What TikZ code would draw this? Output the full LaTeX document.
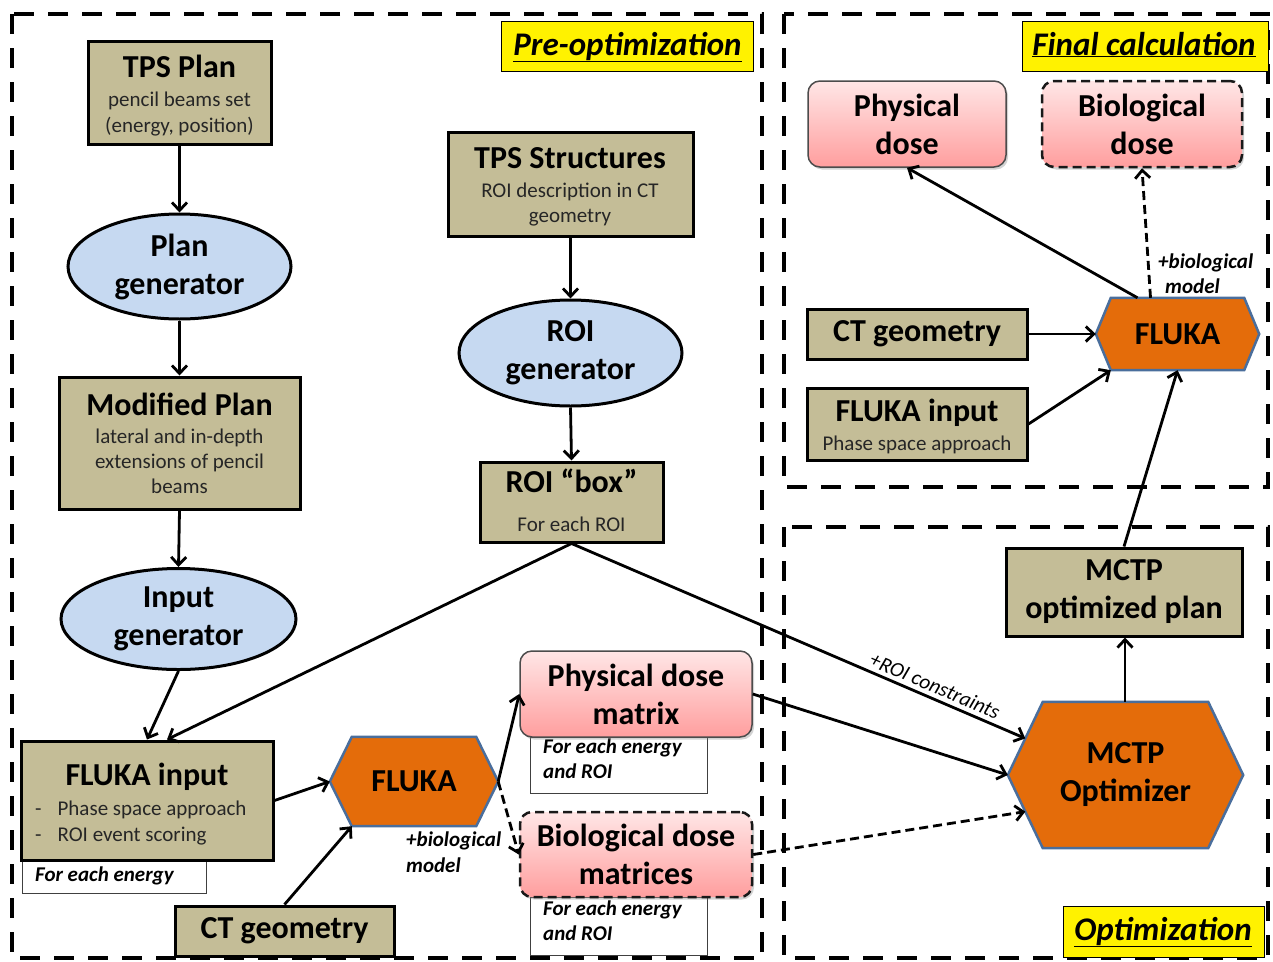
\documentclass[tikz,border=0pt]{standalone}
\usepackage{fontspec}
\setmainfont{Carlito}
\usetikzlibrary{arrows.meta,shapes.geometric,shadows,calc}
\pgfdeclarelayer{background}
\pgfsetlayers{background,main}

\definecolor{tanfill}{HTML}{C4BD97}
\definecolor{genblue}{HTML}{C6D9F1}
\definecolor{flukaorange}{HTML}{E46C0A}
\definecolor{hexedge}{HTML}{4A6E9C}
\definecolor{pinktop}{HTML}{FFE6E6}
\definecolor{pinkbot}{HTML}{FF9E9E}
\definecolor{subtext}{HTML}{262626}

\newcommand\hdfont{\fontsize{32}{38}\selectfont\bfseries}
\newcommand\smfont{\fontsize{21}{25}\selectfont}
\newcommand\notefont{\fontsize{21}{25}\selectfont\bfseries\itshape}
\newcommand\tagfont{\fontsize{33}{38}\selectfont\bfseries\itshape}

% hexagonal outline behind a named node; #2 is the horizontal indent of the points
\newcommand\hexoutline[2]{%
  \begin{pgfonlayer}{background}
    \draw[hexline] (#1.west) -- ([xshift=#2]#1.north west) -- ([xshift=-#2]#1.north east)
      -- (#1.east) -- ([xshift=-#2]#1.south east) -- ([xshift=#2]#1.south west) -- cycle;
  \end{pgfonlayer}}

\tikzset{
  frame/.style={draw, line width=4pt, dash pattern=on 20pt off 14pt},
  tagbox/.style={draw, line width=1pt, fill=yellow, inner sep=0pt},
  tanbox/.style={draw, line width=3pt, fill=tanfill, inner sep=0pt, align=center, font=\hdfont},
  genbox/.style={ellipse, draw, line width=3pt, fill=genblue, inner sep=0pt, align=center, font=\hdfont},
  hexnode/.style={inner sep=0pt, align=center, font=\hdfont},
  hexline/.style={draw=hexedge, line width=2.5pt, fill=flukaorange, line join=miter},
  pinkbox/.style={draw=black!70, line width=1.5pt, rounded corners=12pt, top color=pinktop, bottom color=pinkbot,
    drop shadow={shadow xshift=2pt, shadow yshift=-2.5pt, opacity=0.35}, inner sep=0pt, align=center, font=\hdfont},
  dashedpink/.style={pinkbox, dash pattern=on 9pt off 5pt, draw=black!90, line width=2.5pt},
  notebox/.style={draw=black!75, line width=1pt, fill=white, inner sep=0pt},
  txt/.style={inner sep=0pt, anchor=base},
  ttl/.style={txt, font=\hdfont},
  sbt/.style={txt, font=\smfont, text=subtext},
  note/.style={txt, font=\notefont},
  tagtxt/.style={txt, font=\tagfont},
  flow/.style={line width=2.8pt, -{Straight Barb[length=8pt,width=15pt]}},
  dflow/.style={flow, dash pattern=on 9pt off 5pt}
}

\begin{document}
\begin{tikzpicture}[x=1pt,y=-1pt]
\useasboundingbox (0,0) rectangle (1273,961);

% ---- phase frames ----
\draw[frame] (12,14) rectangle (762,958);
\draw[frame] (784,14) rectangle (1268,487);
\draw[frame] (784,527) rectangle (1268,958);

% ---- phase tags ----
\node[tagbox, minimum width=252pt, minimum height=50pt] (tagpre) at (627,46) {};
\node[tagtxt] (tagpre-t) at (627.5,55) {\underline{Pre-optimization}};
\node[tagbox, minimum width=246pt, minimum height=50pt] (tagfin) at (1145,46) {};
\node[tagtxt] (tagfin-t) at (1144,55) {\underline{Final calculation}};
\node[tagbox, minimum width=201pt, minimum height=51pt] (tagopt) at (1163.5,931.5) {};
\node[tagtxt] (tagopt-t) at (1163,940) {\underline{Optimization}};

% ---- pre-optimization: plan branch ----
\node[tanbox, minimum width=183pt, minimum height=103pt] (tps) at (179.5,92.5) {};
\node[ttl] (tps-t) at (179.5,77) {TPS Plan};
\node[sbt] (tps-s1) at (179.5,106) {pencil beams set};
\node[sbt] (tps-s2) at (179.5,132) {(energy, position)};

\node[genbox, minimum width=223pt, minimum height=105pt] (pg) at (179.5,266.5) {Plan\\generator};

\node[tanbox, minimum width=241pt, minimum height=132pt] (mod) at (179.5,443) {};
\node[ttl] (mod-t) at (179.5,415) {Modified Plan};
\node[sbt] (mod-s1) at (179.5,443) {lateral and in-depth};
\node[sbt] (mod-s2) at (179.5,468) {extensions of pencil};
\node[sbt] (mod-s3) at (179.5,493) {beams};

\node[genbox, minimum width=235pt, minimum height=101pt] (ig) at (178.5,619) {Input\\generator};

% ---- pre-optimization: structure branch ----
\node[tanbox, minimum width=245pt, minimum height=104pt] (tpss) at (570.5,184) {};
\node[ttl] (tpss-t) at (570,168) {TPS Structures};
\node[sbt] (tpss-s1) at (570,197) {ROI description in CT};
\node[sbt] (tpss-s2) at (570,222) {geometry};

\node[genbox, minimum width=223pt, minimum height=106pt] (rg) at (570.5,353) {ROI\\generator};

\node[tanbox, minimum width=183pt, minimum height=80pt] (rb) at (571.5,502) {};
\node[ttl] (rb-t) at (571.5,492) {ROI “box”};
\node[sbt] (rb-s) at (571.5,531) {For each ROI};

% ---- pre-optimization: simulation ----
\node[notebox, minimum width=184pt, minimum height=33pt] (fin-n) at (114,876.5) {};
\node[note, anchor=base west] (fin-nt) at (35,881) {For each energy};
\node[tanbox, minimum width=252pt, minimum height=119pt] (fin) at (147,800.5) {};
\node[ttl] (fin-t) at (147,785) {FLUKA input};
\node[sbt, anchor=base west] (fin-s1) at (35,815) {-\hspace{16pt}Phase space approach};
\node[sbt, anchor=base west] (fin-s2) at (35,841) {-\hspace{16pt}ROI event scoring};

\node[hexnode, minimum width=168pt, minimum height=89pt] (flk) at (414,781.5) {FLUKA};
\hexoutline{flk}{22pt}

\node[tanbox, minimum width=219pt, minimum height=50pt] (ctb) at (284.5,931) {CT geometry};

\node[note, anchor=base west] (bm-n1) at (406,846) {+biological};
\node[note, anchor=base west] (bm-n2) at (406,872) {model};

\node[notebox, minimum width=177pt, minimum height=56pt] (pm-n) at (618.5,765) {};
\node[note, anchor=base west] (pm-n1) at (543,753) {For each energy};
\node[note, anchor=base west] (pm-n2) at (543,778) {and ROI};
\node[pinkbox, minimum width=232pt, minimum height=86pt] (pm) at (636,694) {Physical dose\\matrix};

\node[notebox, minimum width=177pt, minimum height=58pt] (bm-b) at (618.5,926) {};
\node[note, anchor=base west] (bmb-n1) at (543,915) {For each energy};
\node[note, anchor=base west] (bmb-n2) at (543,940) {and ROI};
\node[dashedpink, minimum width=232pt, minimum height=85pt] (bm) at (636,854.5) {Biological dose\\matrices};

% ---- optimization ----
\node[hexnode, minimum width=235pt, minimum height=146pt] (mo) at (1125.5,775) {MCTP\\Optimizer};
\hexoutline{mo}{35pt}
\node[tanbox, minimum width=236pt, minimum height=88pt] (mp) at (1124,592) {MCTP\\optimized plan};

% ---- final calculation ----
\node[pinkbox, minimum width=198pt, minimum height=86pt] (pd) at (907,124) {Physical\\dose};
\node[dashedpink, minimum width=200pt, minimum height=86pt] (bd) at (1142,124) {Biological\\dose};
\node[tanbox, minimum width=220pt, minimum height=50pt] (ctr) at (917,334) {CT geometry};
\node[tanbox, minimum width=220pt, minimum height=72pt] (finr) at (917,424) {};
\node[ttl] (finr-t) at (917,421) {FLUKA input};
\node[sbt] (finr-s) at (917,450) {Phase space approach};
\node[hexnode, minimum width=163pt, minimum height=72pt] (fr) at (1177.5,334) {FLUKA};
\hexoutline{fr}{15pt}
\node[note, anchor=base west] (bd-n1) at (1158,268) {+biological};
\node[note, anchor=base west] (bd-n2) at (1165,293) {model};

% ---- connectors ----
\draw[flow] (tps.south) -- (pg.north);
\draw[flow] (pg.south) -- (mod.north);
\draw[flow] (mod.south) -- (ig.north);
\draw[flow] (ig.south) -- (fin.north);
\draw[flow] (tpss.south) -- (rg.north);
\draw[flow] (rg.south) -- (rb.north);
\draw[flow] (rb.south) -- ([xshift=20pt]fin.north);
\draw[flow] (rb.south) -- node[sloped, above, pos=0.79, inner sep=4pt, font=\fontsize{21}{24}\selectfont\itshape] (roic) {+ROI constraints}
  ($(mo.west)!0.5!([xshift=35pt]mo.north west)$);
\draw[flow] (fin.east) -- (flk.west);
\draw[flow] (ctb.north) -- ([xshift=22pt]flk.south west);
\draw[flow] (flk.east) -- (pm.west);
\draw[dflow] (flk.east) -- (bm.west);
\draw[flow] (pm.east) -- (mo.west);
\draw[dflow] (bm.east) -- ($(mo.west)!0.5!([xshift=35pt]mo.south west)$);
\draw[flow] ([xshift=-0.5pt]mo.north) -- ([xshift=1pt]mp.south);
\draw[flow] (mp.north) -- (fr.south);
\draw[flow] (ctr.east) -- (fr.west);
\draw[flow] (finr.east) -- ([xshift=15pt]fr.south west);
\draw[flow] ([xshift=-40pt]fr.north) -- (pd.south);
\draw[dflow] ([xshift=-27pt]fr.north) -- (bd.south);
\end{tikzpicture}
\end{document}
